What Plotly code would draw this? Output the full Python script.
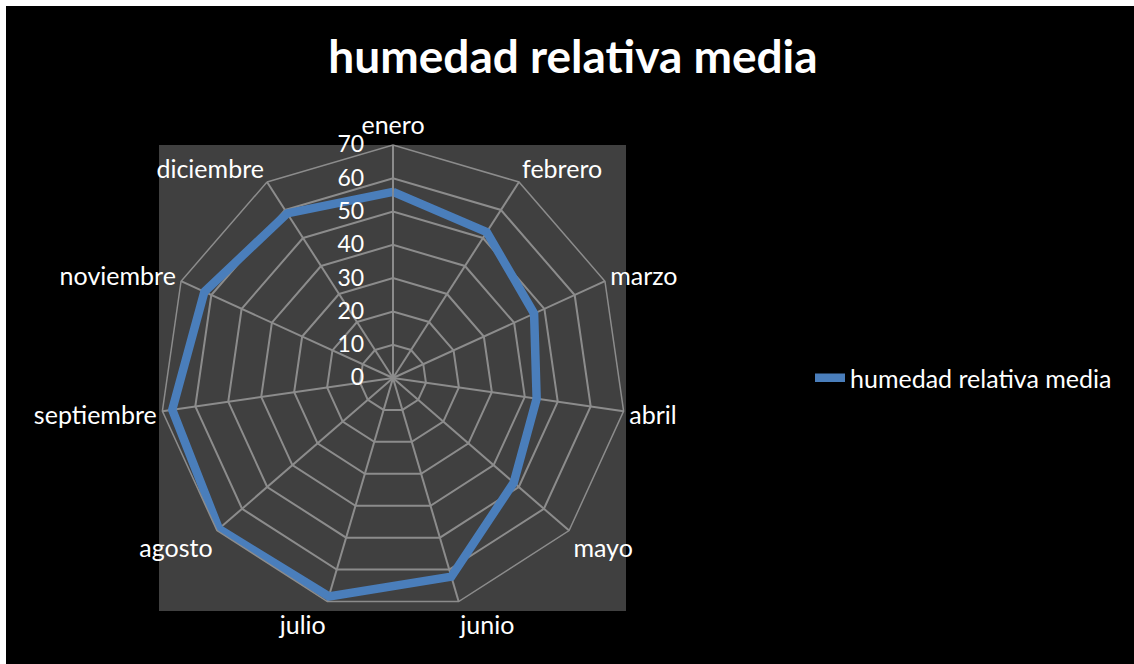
import plotly.graph_objects as go

categories = ["enero", "febrero", "marzo", "abril", "mayo", "junio", "julio",
              "agosto", "septiembre", "noviembre", "diciembre"]
humedad = [55.9, 52.1, 46.6, 43.6, 48.0, 62.2, 68.4, 69.2, 67.0, 62.3, 58.8]
radial_ticks = [0, 10, 20, 30, 40, 50, 60, 70]
series_name = "humedad relativa media"
title_text = "humedad relativa media"

W, H = 1134, 664
FONT = "Lato, 'Open Sans', sans-serif"

def px(x):
    return x / W

def py(y):
    return 1 - y / H

fig = go.Figure()
fig.add_trace(go.Scatterpolar(
    r=humedad + humedad[:1],
    theta=categories + categories[:1],
    mode="lines",
    name=series_name,
    line=dict(color="#4A7EBB", width=8.5),
))

cx, cy, R = 393, 378, 233

fig.update_layout(
    width=W, height=H,
    paper_bgcolor="white",
    plot_bgcolor="black",
    margin=dict(l=0, r=0, t=0, b=0),
    title=dict(text="<b>" + title_text + "</b>", x=px(573), xanchor="center",
               y=py(57), yanchor="middle",
               font=dict(family=FONT, size=46, color="white")),
    shapes=[
        dict(type="rect", xref="paper", yref="paper", x0=px(6), x1=1, y0=0, y1=py(6),
             fillcolor="black", line=dict(width=0), layer="below"),
        dict(type="rect", xref="paper", yref="paper", x0=px(159), x1=px(626),
             y0=py(611), y1=py(145), fillcolor="#404040", line=dict(width=0), layer="below"),
    ],
    polar=dict(
        domain=dict(x=[px(cx - R), px(cx + R)], y=[py(cy + R), py(cy - R)]),
        bgcolor="#404040",
        gridshape="linear",
        angularaxis=dict(
            direction="clockwise", rotation=90,
            tickfont=dict(family=FONT, size=25, color="white"),
            gridcolor="#8C8C8C", gridwidth=1.5,
            linecolor="#8C8C8C", linewidth=1.5,
            ticks="",
        ),
        radialaxis=dict(
            range=[0, 70], tickvals=radial_ticks, angle=90, tickangle=90,
            side="counterclockwise",
            tickfont=dict(family=FONT, size=23, color="white"),
            gridcolor="#8C8C8C", gridwidth=1.5,
            linecolor="#8C8C8C", linewidth=1.5,
            ticks="outside", ticklen=20, tickcolor="rgba(0,0,0,0)", showline=True,
        ),
    ),
    legend=dict(x=px(810), y=py(378), xanchor="left", yanchor="middle",
                bgcolor="rgba(0,0,0,0)",
                font=dict(family=FONT, size=25, color="white")),
    showlegend=True,
)

fig.write_html("out.html", config={"displayModeBar": False},
               post_script="document.body.style.margin='0';")
